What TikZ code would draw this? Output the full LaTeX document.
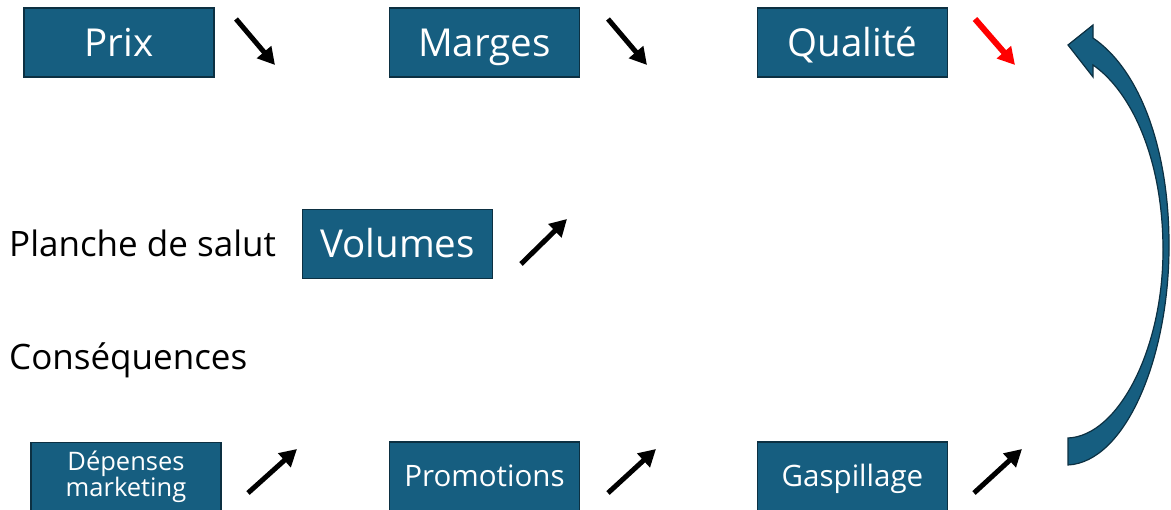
\documentclass[tikz,border=0pt]{standalone}
\usepackage{fontspec}
\setmainfont{Open Sans}
\usetikzlibrary{arrows.meta}
\definecolor{boxblue}{RGB}{22,94,128}
\definecolor{boxedge}{RGB}{12,48,66}
\tikzset{
  bluebox/.style={draw=boxedge, line width=1.2pt, fill=boxblue, text=white, minimum width=190pt, minimum height=69pt, inner sep=0pt, align=center},
  bigtxt/.style={font=\fontsize{38.5}{40}\selectfont, text height=27.5pt, text depth=0pt},
  midtxt/.style={font=\fontsize{29.5}{32}\selectfont, text height=21pt, text depth=0pt},
  smalltxt/.style={font=\fontsize{25.5}{30}\selectfont},
  plain/.style={font=\fontsize{35}{38}\selectfont, anchor=west, inner sep=0pt},
  trend/.style={line width=5pt, -{Triangle[length=17pt,width=18pt]}},
}
\begin{document}
\begin{tikzpicture}[x=1pt,y=-1pt]
\useasboundingbox (0,0) rectangle (1171,510);
% boxes
\node[bluebox,bigtxt] (prix) at (119,42.5) {Prix};
\node[bluebox,bigtxt] (marges) at (484.5,42.5) {Marges};
\node[bluebox,bigtxt] (qualite) at (852.5,42.5) {Qualité};
\node[bluebox,bigtxt] (volumes) at (397.5,244) {Volumes};
\node[bluebox,smalltxt] (depenses) at (126,477) {Dépenses\\[-4pt]marketing};
\node[bluebox,midtxt] (promo) at (484.5,476.5) {Promotions};
\node[bluebox,midtxt] (gasp) at (852.5,476.5) {Gaspillage};
% labels
\node[plain] (planche) at (9,243) {Planche de salut};
\node[plain] (cons) at (9,360) {Conséquences};
% trend arrows
\coordinate (a1s) at (236,19); \coordinate (a1e) at (275,65);
\coordinate (a2s) at (608,19); \coordinate (a2e) at (647,65);
\coordinate (a3s) at (975,19); \coordinate (a3e) at (1015,65);
\coordinate (a4s) at (521,264); \coordinate (a4e) at (567,219);
\coordinate (a5s) at (248,493); \coordinate (a5e) at (297,449);
\coordinate (a6s) at (608,493); \coordinate (a6e) at (656,449);
\coordinate (a7s) at (974,493); \coordinate (a7e) at (1022,449);
\draw[trend] (a1s) -- (a1e);
\draw[trend] (a2s) -- (a2e);
\draw[trend, red, line width=6pt] (a3s) -- (a3e);
\draw[trend] (a4s) -- (a4e);
\draw[trend] (a5s) -- (a5e);
\draw[trend] (a6s) -- (a6e);
\draw[trend] (a7s) -- (a7e);
% big curved arrow
\draw[draw=boxedge, line width=1.2pt, fill=boxblue, line join=miter]
  (1093,38) .. controls (1140,70) and (1170,150) .. (1169,250)
  .. controls (1168,360) and (1125,462) .. (1068,465)
  -- (1068,438)
  .. controls (1118,436) and (1163,350) .. (1163,250)
  .. controls (1163,160) and (1132,92) .. (1093,65)
  -- (1093,77) -- (1068,45) -- (1093,25) -- cycle;
\end{tikzpicture}
\end{document}
